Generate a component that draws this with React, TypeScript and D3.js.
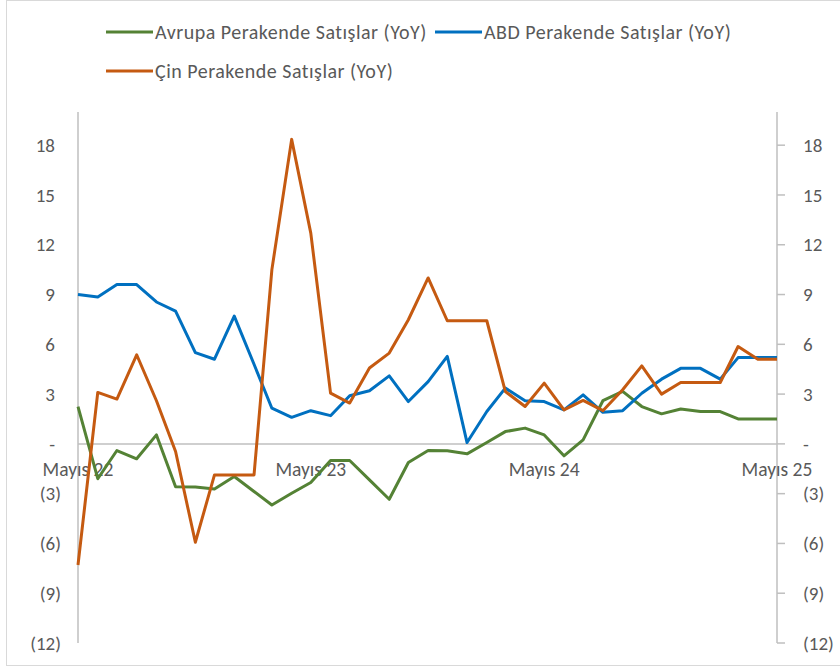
import React from "react";
import * as d3 from "d3";

// monthly YoY retail sales, May 2022 .. May 2025
const startMonth = new Date(2022, 4, 1);
const endMonth = new Date(2025, 4, 1);

const avrupa = [
  2.25, -2.1, -0.4, -0.9, 0.54, -2.58, -2.6, -2.72, -1.97, -2.87, -3.68, -2.98,
  -2.33, -1.0, -1.0, -2.17, -3.34, -1.12, -0.4, -0.42, -0.6, 0.08, 0.74, 0.95,
  0.54, -0.72, 0.24, 2.6, 3.16, 2.25, 1.81, 2.1, 1.95, 1.95, 1.5, 1.5, 1.5,
];
const abd = [
  9.0, 8.85, 9.6, 9.6, 8.55, 8.0, 5.5, 5.1, 7.7, 4.8, 2.15, 1.6, 2.0, 1.7, 2.9,
  3.2, 4.1, 2.55, 3.75, 5.27, 0.08, 1.95, 3.36, 2.6, 2.55, 2.05, 2.95, 1.9, 2.0,
  3.05, 3.9, 4.55, 4.55, 3.9, 5.2, 5.2, 5.2,
];
const cin = [
  -7.3, 3.1, 2.7, 5.37, 2.6, -0.46, -5.93, -1.87, -1.87, -1.87, 10.5, 18.35,
  12.7, 3.06, 2.46, 4.57, 5.47, 7.48, 10.0, 7.42, 7.42, 7.42, 3.16, 2.25, 3.66,
  2.05, 2.62, 2.0, 3.26, 4.7, 3.0, 3.7, 3.7, 3.7, 5.87, 5.1, 5.1,
];

const yTicks = [-12, -9, -6, -3, 0, 3, 6, 9, 12, 15, 18];
const xTickLabels = ["Mayıs 22", "Mayıs 23", "Mayıs 24", "Mayıs 25"];

const seriesNames = [
  "Avrupa Perakende Satışlar (YoY)",
  "ABD Perakende Satışlar (YoY)",
  "Çin Perakende Satışlar (YoY)",
];

const W = 840;
const H = 667;
const FONT = "Carlito, Calibri, Lato, sans-serif";
const GREY = "#595959";
const AXIS = "#BFBFBF";

const App = () => {
  const months = d3.timeMonth.range(startMonth, d3.timeMonth.offset(endMonth, 1));

  const x = d3.scaleTime().domain([startMonth, endMonth]).range([78, 777]);
  const y = d3.scaleLinear().domain([-12, 20]).range([643, 112]);

  const line = d3
    .line<number>()
    .x((d, i) => x(months[i]))
    .y((d) => y(d));

  const series = [
    { name: seriesNames[0], values: avrupa, color: "#548235" },
    { name: seriesNames[1], values: abd, color: "#0070C0" },
    { name: seriesNames[2], values: cin, color: "#C55A11" },
  ];

  const fmt = (v: number) => (v === 0 ? "-" : v < 0 ? `(${-v})` : `${v}`);
  const leftX = (v: number) => (v < 0 ? 61 : 55);

  // one label every 12 months
  const xTickDates = xTickLabels.map((_, i) => d3.timeMonth.offset(startMonth, i * 12));

  // legend layout
  const legendPos = [
    { x: 106, y: 32 },
    { x: 435, y: 32 },
    { x: 106, y: 71 },
  ];

  return (
    <svg
      width={W}
      height={H}
      style={{ position: "absolute", left: 0, top: 0, background: "#fff" }}
      fontFamily={FONT}
    >
      <rect x={6.5} y={0.5} width={W} height={665} fill="#fff" stroke="#D9D9D9" />

      {/* legend */}
      {series.map((s, i) => (
        <g key={s.name} transform={`translate(${legendPos[i].x},${legendPos[i].y})`}>
          <line x1={0} x2={47} y1={0} y2={0} stroke={s.color} strokeWidth={3} />
          <text
            x={49}
            y={0}
            dy="0.35em"
            fontSize={20}
            letterSpacing={0.5}
            fill={GREY}
          >
            {s.name}
          </text>
        </g>
      ))}

      {/* axes */}
      <line x1={78} x2={78} y1={y(20)} y2={y(-12)} stroke={AXIS} strokeWidth={1.5} />
      <line x1={777} x2={777} y1={y(20)} y2={y(-12)} stroke={AXIS} strokeWidth={1.5} />
      <line x1={78} x2={777} y1={y(0)} y2={y(0)} stroke={AXIS} strokeWidth={1.5} />

      {yTicks.map((t) => (
        <g key={t}>
          <text
            x={leftX(t)}
            y={y(t)}
            dy="0.35em"
            textAnchor="end"
            fontSize={19}
            fill={GREY}
          >
            {fmt(t)}
          </text>
          <line x1={777} x2={785} y1={y(t)} y2={y(t)} stroke={AXIS} strokeWidth={1.5} />
          <text x={803} y={y(t)} dy="0.35em" fontSize={19} fill={GREY}>
            {fmt(t)}
          </text>
        </g>
      ))}

      {xTickDates.map((d, i) => (
        <text
          key={xTickLabels[i]}
          x={x(d)}
          y={469}
          dy="0.35em"
          textAnchor="middle"
          fontSize={19.5}
          fill={GREY}
        >
          {xTickLabels[i]}
        </text>
      ))}

      {/* series */}
      {series.map((s) => (
        <path
          key={s.name}
          d={line(s.values) || ""}
          fill="none"
          stroke={s.color}
          strokeWidth={3}
          strokeLinejoin="round"
        />
      ))}
    </svg>
  );
};

export default App;
